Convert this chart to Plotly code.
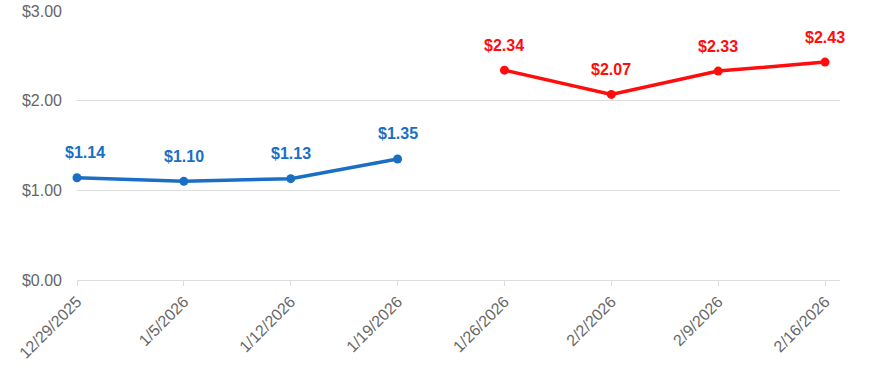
import plotly.graph_objects as go

dates = ["12/29/2025", "1/5/2026", "1/12/2026", "1/19/2026",
         "1/26/2026", "2/2/2026", "2/9/2026", "2/16/2026"]
blue_idx = [0, 1, 2, 3]
blue_vals = [1.14, 1.10, 1.13, 1.35]
red_idx = [4, 5, 6, 7]
red_vals = [2.34, 2.07, 2.33, 2.43]
y_ticks = [0, 1, 2, 3]
y_tick_text = ["$0.00", "$1.00", "$2.00", "$3.00"]

BLUE = "#1a6fc4"
RED = "#ff0d0d"
FONT = "Liberation Sans, Arial, sans-serif"

fig = go.Figure()
for xs, ys, col in [(blue_idx, blue_vals, BLUE), (red_idx, red_vals, RED)]:
    fig.add_trace(go.Scatter(
        x=xs, y=ys, mode="lines+markers",
        line=dict(color=col, width=3.5),
        marker=dict(color=col, size=9),
        hoverinfo="skip", showlegend=False, cliponaxis=False))

annotations = []
for xs, ys, col in [(blue_idx, blue_vals, BLUE), (red_idx, red_vals, RED)]:
    for x, y in zip(xs, ys):
        annotations.append(dict(
            x=x, y=y, xref="x", yref="y", text=f"<b>${y:.2f}</b>",
            showarrow=False, yshift=25, xshift=8 if x == 0 else 0,
            font=dict(family=FONT, size=16, color=col)))

fig.update_layout(
    width=870, height=380,
    margin=dict(l=77, r=30, t=11, b=100),
    plot_bgcolor="white", paper_bgcolor="white",
    annotations=annotations,
    xaxis=dict(
        range=[0, 7.14], tickmode="array", automargin=False,
        tickvals=list(range(len(dates))), ticktext=dates,
        tickangle=-45, showgrid=False, zeroline=False,
        showline=True, linecolor="#dddddd", linewidth=1,
        ticks="outside", ticklen=5, tickcolor="#dddddd",
        tickfont=dict(family=FONT, size=16, color="#666666")),
    yaxis=dict(
        range=[0, 3], tickmode="array", tickvals=y_ticks, automargin=False,
        ticktext=y_tick_text, showgrid=True, gridcolor="#dddddd",
        zeroline=False, showline=False, ticks="",
        ticklabelstandoff=14,
        tickfont=dict(family=FONT, size=16, color="#666666")),
)

fig.write_html("out.html")
